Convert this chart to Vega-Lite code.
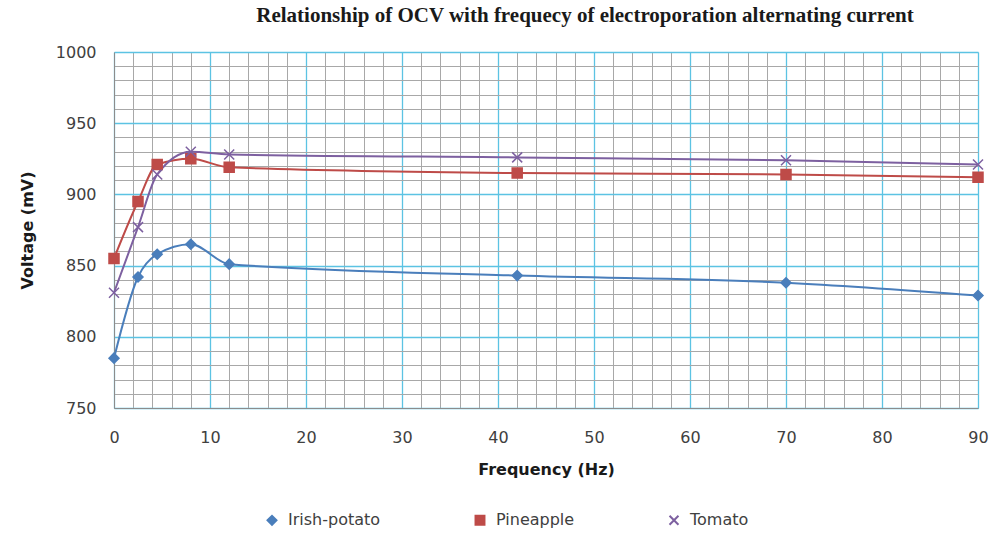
{
  "$schema": "https://vega.github.io/schema/vega-lite/v6.json",
  "width": 864,
  "height": 356,
  "autosize": "none",
  "padding": {"left": 114, "top": 52, "right": 15, "bottom": 125},
  "background": "white",
  "title": {
    "text": "Relationship of OCV with frequecy of electroporation alternating current",
    "font": "Liberation Serif",
    "fontSize": 21,
    "fontWeight": "bold",
    "color": "#1a1a1a",
    "anchor": "middle",
    "dx": 39,
    "offset": 18
  },
  "data": {
    "values": [
      {"f": 0, "v": 785, "s": "Irish-potato"},
      {"f": 2.5, "v": 842, "s": "Irish-potato"},
      {"f": 4.5, "v": 858, "s": "Irish-potato"},
      {"f": 8, "v": 865, "s": "Irish-potato"},
      {"f": 12, "v": 851, "s": "Irish-potato"},
      {"f": 42, "v": 843, "s": "Irish-potato"},
      {"f": 70, "v": 838, "s": "Irish-potato"},
      {"f": 90, "v": 829, "s": "Irish-potato"},
      {"f": 0, "v": 855, "s": "Pineapple"},
      {"f": 2.5, "v": 895, "s": "Pineapple"},
      {"f": 4.5, "v": 921, "s": "Pineapple"},
      {"f": 8, "v": 925, "s": "Pineapple"},
      {"f": 12, "v": 919, "s": "Pineapple"},
      {"f": 42, "v": 915, "s": "Pineapple"},
      {"f": 70, "v": 914, "s": "Pineapple"},
      {"f": 90, "v": 912, "s": "Pineapple"},
      {"f": 0, "v": 831, "s": "Tomato"},
      {"f": 2.5, "v": 877, "s": "Tomato"},
      {"f": 4.5, "v": 914, "s": "Tomato"},
      {"f": 8, "v": 930, "s": "Tomato"},
      {"f": 12, "v": 928, "s": "Tomato"},
      {"f": 42, "v": 926, "s": "Tomato"},
      {"f": 70, "v": 924, "s": "Tomato"},
      {"f": 90, "v": 921, "s": "Tomato"}
    ]
  },
  "resolve": {"axis": {"x": "independent", "y": "independent"}},
  "layer": [
    {
      "mark": {"type": "line", "opacity": 0},
      "encoding": {
        "x": {"field": "f", "type": "quantitative", "scale": {"domain": [0, 90], "nice": false},
          "axis": {"orient": "bottom", "values": [2,4,6,8,12,14,16,18,22,24,26,28,32,34,36,38,42,44,46,48,52,54,56,58,62,64,66,68,72,74,76,78,82,84,86,88],
            "labels": false, "ticks": false, "domain": false, "title": null, "grid": true, "gridColor": "#a8a8a8", "gridWidth": 1, "gridOpacity": 1}},
        "y": {"field": "v", "type": "quantitative", "scale": {"domain": [750, 1000], "nice": false, "zero": false},
          "axis": {"orient": "left", "values": [760,770,780,790,810,820,830,840,860,870,880,890,910,920,930,940,960,970,980,990],
            "labels": false, "ticks": false, "domain": false, "title": null, "grid": true, "gridColor": "#a8a8a8", "gridWidth": 1, "gridOpacity": 1}},
        "detail": {"field": "s"}
      }
    },
    {
      "mark": {"type": "line", "interpolate": "monotone", "strokeWidth": 2},
      "encoding": {
        "x": {"field": "f", "type": "quantitative",
          "axis": {"orient": "bottom", "values": [0,10,20,30,40,50,60,70,80,90], "title": "Frequency (Hz)",
            "grid": true, "gridColor": "#5cc3e3", "gridWidth": 1.3, "gridOpacity": 1,
            "domain": true, "domainColor": "#8c8c8c", "ticks": false, "labelFlush": false,
            "labelFont": "DejaVu Sans", "labelFontSize": 16, "labelColor": "#404040", "labelPadding": 21,
            "titleFont": "DejaVu Sans", "titleFontSize": 16, "titleFontWeight": "bold", "titleColor": "#1a1a1a", "titlePadding": 16}},
        "y": {"field": "v", "type": "quantitative",
          "axis": {"orient": "left", "values": [750,800,850,900,950,1000], "title": "Voltage (mV)", "format": "d",
            "grid": true, "gridColor": "#5cc3e3", "gridWidth": 1.3, "gridOpacity": 1,
            "domain": true, "domainColor": "#8c8c8c", "ticks": false, "labelFlush": false,
            "labelFont": "DejaVu Sans", "labelFontSize": 16, "labelColor": "#404040", "labelPadding": 18,
            "titleFont": "DejaVu Sans", "titleFontSize": 16, "titleFontWeight": "bold", "titleColor": "#1a1a1a", "titlePadding": 20}},
        "color": {"field": "s", "type": "nominal", "scale": {"domain": ["Irish-potato", "Pineapple", "Tomato"], "range": ["#4a7ebb", "#be4b48", "#7d60a0"]},
          "legend": {"orient": "none", "legendX": 150, "legendY": 460, "direction": "horizontal", "title": null,
            "symbolSize": 80, "symbolStrokeWidth": 2, "labelOffset": 8, "columnPadding": 90,
            "labelFont": "DejaVu Sans", "labelFontSize": 16, "labelColor": "#404040"}}
      }
    },
    {
      "mark": {"type": "point", "filled": true, "size": 100, "opacity": 1, "strokeWidth": 1.5},
      "encoding": {
        "x": {"field": "f", "type": "quantitative", "axis": null},
        "y": {"field": "v", "type": "quantitative", "axis": null},
        "color": {"field": "s", "type": "nominal", "scale": {"domain": ["Irish-potato", "Pineapple", "Tomato"], "range": ["#4a7ebb", "#be4b48", "#7d60a0"]},
          "legend": {"orient": "none", "legendX": 150, "legendY": 460, "direction": "horizontal", "title": null,
            "symbolSize": 80, "symbolStrokeWidth": 2, "labelOffset": 8, "columnPadding": 90,
            "labelFont": "DejaVu Sans", "labelFontSize": 16, "labelColor": "#404040"}},
        "stroke": {"field": "s", "type": "nominal", "scale": {"domain": ["Irish-potato", "Pineapple", "Tomato"], "range": ["#4a7ebb", "#be4b48", "#7d60a0"]}, "legend": null},
        "shape": {"field": "s", "type": "nominal", "scale": {"domain": ["Irish-potato", "Pineapple", "Tomato"], "range": ["diamond", "square", "M-1,-1L1,1M-1,1L1,-1"]}, "legend": null}
      }
    }
  ]
}
